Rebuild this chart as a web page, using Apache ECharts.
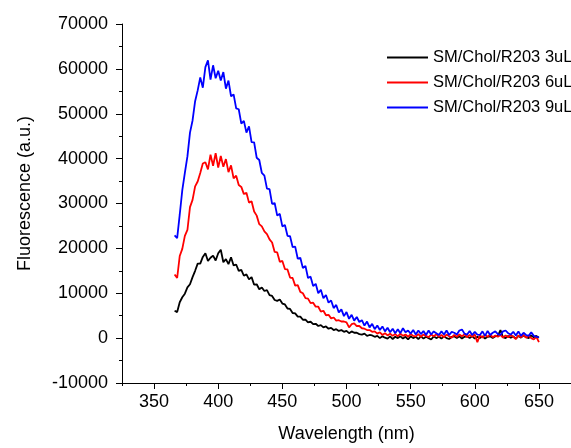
<!DOCTYPE html>
<html>
<head>
<meta charset="utf-8">
<script src="https://cdn.jsdelivr.net/npm/echarts@6/dist/echarts.min.js"></script>
<style>
html,body{margin:0;padding:0;background:#fff;}
#chart{width:571px;height:448px;}
</style>
</head>
<body>
<div id="chart"></div>
<script>
// wavelength grid (nm)
var wavelengths = [366,368,370,372,374,376,378,380,382,384,386,388,390,392,394,396,398,400,402,404,
	406,408,410,412,414,416,418,420,422,424,426,428,430,432,434,436,438,440,442,444,
	446,448,450,452,454,456,458,460,462,464,466,468,470,472,474,476,478,480,482,484,
	486,488,490,492,494,496,498,500,502,504,506,508,510,512,514,516,518,520,522,524,
	526,528,530,532,534,536,538,540,542,544,546,548,550,552,554,556,558,560,562,564,
	566,568,570,572,574,576,578,580,582,584,586,588,590,592,594,596,598,600,602,604,
	606,608,610,612,614,616,618,620,622,624,626,628,630,632,634,636,638,640,642,644,
	646,648,650];

var names = ['SM/Chol/R203 3uL','SM/Chol/R203 6uL','SM/Chol/R203 9uL'];
var colors = ['#000000','#ff0000','#0000ff'];

var fl_3uL = [6100,5800,8000,9100,9900,11300,12000,13600,15000,16600,
	16600,18100,18900,17200,17900,18400,17300,18900,19700,16900,
	17600,16500,18000,16200,16400,15000,15200,13900,14200,13100,
	13600,11900,12000,10900,11300,10500,10700,9600,9400,8500,
	8300,8600,7700,7500,6600,6500,5600,5500,4800,4800,
	4100,4100,3500,3700,3100,3200,2700,2900,2400,2600,
	2100,2300,1800,2000,1600,1800,1400,1600,1100,1500,
	1200,1200,900,800,1000,500,700,600,300,500,
	0,400,100,-100,400,-200,300,0,400,-100,
	300,-300,400,0,300,-200,400,-100,300,0,
	-300,400,0,300,-100,400,0,-200,300,400,
	0,400,-100,300,400,0,400,-100,300,0,
	400,-100,300,400,0,400,500,1800,200,0,
	500,100,400,-100,500,100,600,200,0,600,
	200,500,100];

var fl_6uL = [14200,13400,18300,19900,22800,24100,29200,30800,33800,34900,
	36800,38900,39200,37600,40900,38400,41200,38000,40600,38200,
	39900,37000,38500,35600,36200,34100,33700,32100,32400,30200,
	30500,28200,27300,25400,24900,23800,23200,22000,21300,19200,
	19100,17000,17200,15400,15300,13500,13400,11700,11800,10300,
	10000,8900,8800,7800,7900,7000,7000,5900,6100,5100,
	5200,4400,4600,3900,4000,3700,3700,3500,2400,3100,
	3300,2700,2700,2200,2100,1800,1800,1400,1500,1000,
	1300,700,1100,600,1000,500,900,400,1000,500,
	800,300,900,500,400,900,300,800,500,200,
	800,400,900,300,700,200,800,400,100,700,
	300,800,400,900,200,700,300,800,-900,600,
	100,700,300,800,200,600,300,700,100,600,
	200,700,300,-200,600,200,700,100,500,0,
	-300,300,-900];

var fl_9uL = [22900,22300,27500,33000,36800,40500,45800,48500,52800,55200,
	58100,55800,60400,61900,57600,60800,57900,59600,57400,59300,
	55600,57400,53900,54300,51200,51000,47800,48400,45800,47200,
	43700,43600,40200,39700,36800,36200,33300,33200,29900,30100,
	27300,27700,24900,25200,22800,22700,20300,20400,17700,17900,
	15600,16100,13400,13700,11600,12100,10000,10800,8900,9600,
	7900,8400,6700,7400,5700,6400,4900,5800,4300,5200,
	3900,4700,3600,4000,2800,3700,2400,3200,2000,2800,
	1800,2600,1500,2300,1300,2100,1100,2000,1100,2200,
	1300,1700,1000,1800,800,1700,900,1600,700,1700,
	800,1500,1100,700,1500,800,1700,700,1400,1200,
	800,1700,1900,1000,800,1600,700,1400,800,700,
	1500,500,1600,700,1200,1500,900,700,1500,1700,
	1100,800,1400,600,1500,500,1200,700,500,1300,
	500,300,200];

var xMajor = [350,400,450,500,550,600,650];

var chart = echarts.init(document.getElementById('chart'));
var font = 'Arial, "Liberation Sans", sans-serif';

function pairs(vals){
	return wavelengths.map(function(w,i){ return [w, vals[i]]; });
}

var allSeries = [fl_3uL, fl_6uL, fl_9uL].map(function(vals,i){
	return {
		name: names[i],
		type: 'line',
		data: pairs(vals),
		showSymbol: false,
		symbol: 'none',
		lineStyle: {color: colors[i], width: 1.8},
		itemStyle: {color: colors[i]},
		silent: true
	};
});

chart.setOption({
	animation: false,
	backgroundColor: '#fff',
	grid: {left: 122, top: 24, bottom: 61, right: -8},
	legend: {
		orient: 'vertical',
		left: 382,
		top: 44,
		icon: 'rect',
		itemWidth: 41,
		itemHeight: 2,
		itemGap: 8,
		textStyle: {fontFamily: font, fontSize: 16.5, color: '#000'},
		data: names
	},
	xAxis: [{
		type: 'value',
		min: 325,
		max: 675,
		name: 'Wavelength (nm)',
		nameLocation: 'middle',
		nameGap: 42,
		nameTextStyle: {fontFamily: font, fontSize: 18, color: '#000'},
		axisLine: {onZero: false, lineStyle: {color: '#000', width: 1}},
		axisTick: {show: true, length: 6, customValues: xMajor, lineStyle: {color: '#000'}},
		axisLabel: {fontFamily: font, fontSize: 18, color: '#000', margin: 10, customValues: xMajor},
		splitLine: {show: false}
	}, {
		// minor ticks at 325, 375, ... 675
		type: 'value',
		min: 325,
		max: 675,
		interval: 50,
		position: 'bottom',
		axisLine: {show: false, onZero: false},
		axisTick: {show: true, length: 3, lineStyle: {color: '#000'}},
		axisLabel: {show: false},
		splitLine: {show: false}
	}],
	yAxis: {
		type: 'value',
		min: -10000,
		max: 70000,
		interval: 10000,
		name: 'Fluorescence (a.u.)',
		nameLocation: 'middle',
		nameGap: 88,
		nameTextStyle: {fontFamily: font, fontSize: 18, color: '#000', padding: [0,0,0,20]},
		axisLine: {show: true, onZero: false, lineStyle: {color: '#000', width: 1}},
		axisTick: {show: true, length: 6, lineStyle: {color: '#000'}},
		minorTick: {show: true, splitNumber: 2, length: 3, lineStyle: {color: '#000'}},
		axisLabel: {fontFamily: font, fontSize: 18, color: '#000', margin: 14,
			formatter: function(v){ return String(v); }},
		splitLine: {show: false}
	},
	series: allSeries
});
</script>
</body>
</html>
